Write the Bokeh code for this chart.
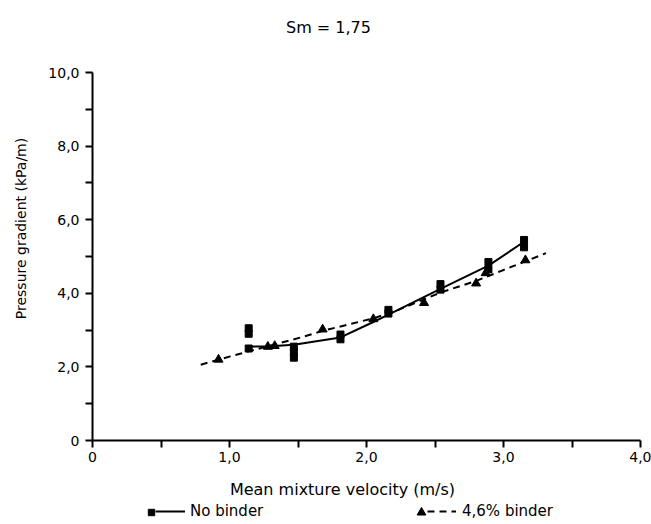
import math
from bokeh.plotting import figure
from bokeh.models import Range1d, FixedTicker, Label, Legend, LegendItem
from bokeh.core.properties import value
from bokeh.embed import file_html
from bokeh.resources import INLINE

# ---- texts ----
title_text = "Sm = 1,75"
x_label = "Mean mixture velocity (m/s)"
y_label = "Pressure gradient (kPa/m)"
series_names = ["No binder", "4,6% binder"]

# ---- tick labels ----
x_ticks = [0, 1, 2, 3, 4]
x_minor = [0.5, 1.5, 2.5, 3.5]
x_tick_labels = ["0", "1,0", "2,0", "3,0", "4,0"]
y_ticks = [0, 2, 4, 6, 8, 10]
y_minor = [1, 3, 5, 7, 9]
y_tick_labels = ["0", "2,0", "4,0", "6,0", "8,0", "10,0"]

# ---- No binder (squares, solid curve) ----
nb_x = [1.14, 1.14, 1.14, 1.47, 1.47, 1.47, 1.81, 1.81, 2.16, 2.16, 2.54, 2.54, 2.89, 2.89, 3.15, 3.15]
nb_y = [3.05, 2.90, 2.50, 2.55, 2.40, 2.25, 2.88, 2.75, 3.45, 3.55, 4.10, 4.25, 4.65, 4.85, 5.25, 5.45]
nb_curve_x = [1.13, 1.30, 1.47, 1.81, 2.05, 2.16, 2.54, 2.89, 3.15]
nb_curve_y = [2.55, 2.56, 2.60, 2.80, 3.22, 3.42, 4.12, 4.75, 5.40]

# ---- 4,6% binder (triangles, dashed curve) ----
b_x = [0.92, 1.28, 1.33, 1.68, 2.05, 2.42, 2.80, 2.87, 3.16]
b_y = [2.20, 2.55, 2.57, 3.02, 3.30, 3.74, 4.27, 4.55, 4.90]
b_curve_x = [0.79, 1.00, 1.30, 1.52, 1.68, 2.05, 2.20, 2.54, 2.81, 3.16, 3.31]
b_curve_y = [2.06, 2.28, 2.58, 2.80, 2.98, 3.32, 3.50, 4.02, 4.35, 4.87, 5.09]

FONT = "DejaVu Sans"
W, H = 651, 524
X0_PX, X4_PX = 92, 640      # pixel of x=0 and x=4
Y0_PX, Y10_PX = 440, 72     # pixel of y=0 and y=10
sx = (X4_PX - X0_PX) / 4.0
sy = (Y0_PX - Y10_PX) / 10.0

p = figure(width=W, height=H, output_backend="svg", toolbar_location=None,
           x_range=Range1d(-X0_PX / sx, (W - X0_PX) / sx),
           y_range=Range1d(-(H - Y0_PX) / sy, Y0_PX / sy),
           min_border=0)
p.outline_line_color = None
p.xgrid.visible = False
p.ygrid.visible = False
p.background_fill_color = "white"
p.border_fill_color = "white"

for ax, ticks, minor, labels, bnd in [(p.xaxis[0], x_ticks, x_minor, x_tick_labels, (0, 4)),
                                      (p.yaxis[0], y_ticks, y_minor, y_tick_labels, (0, 10))]:
    ax.fixed_location = 0
    ax.bounds = bnd
    ax.ticker = FixedTicker(ticks=ticks, minor_ticks=minor)
    ax.major_label_overrides = {t: l for t, l in zip(ticks, labels)}
    ax.axis_line_width = 2
    ax.axis_line_color = "black"
    ax.major_tick_line_width = 2
    ax.minor_tick_line_width = 2
    ax.major_tick_line_color = "black"
    ax.minor_tick_line_color = "black"
    ax.major_tick_in = 0
    ax.minor_tick_in = 0
    ax.major_tick_out = 7
    ax.minor_tick_out = 7
    ax.major_label_text_font = FONT
    ax.major_label_text_font_size = "14px"
    ax.major_label_text_color = "black"
p.xaxis[0].major_label_standoff = 4
p.yaxis[0].major_label_standoff = 6

# curves
nb_line = p.line(nb_curve_x, nb_curve_y, line_color="black", line_width=2)
b_line = p.line(b_curve_x, b_curve_y, line_color="black", line_width=2, line_dash="7 5")
# markers
nb_pts = p.scatter(nb_x, nb_y, marker="square", size=7, fill_color="black", line_color="black")
b_pts = p.scatter(b_x, b_y, marker="triangle", size=9, fill_color="black", line_color="black")

def px_to_x(px):
    return (px - X0_PX) / sx

def px_to_y(py):
    return (Y0_PX - py) / sy

p.add_layout(Label(x=px_to_x(328), y=px_to_y(27), text=title_text, text_align="center",
                   text_baseline="middle", text_font=FONT, text_font_size="16px", text_color="black"))
p.add_layout(Label(x=px_to_x(342), y=px_to_y(489), text=x_label, text_align="center",
                   text_baseline="middle", text_font=FONT, text_font_size="16px", text_color="black"))
p.add_layout(Label(x=px_to_x(20), y=px_to_y(228), text=y_label, angle=math.pi / 2, text_align="center",
                   text_baseline="middle", text_font=FONT, text_font_size="14px", text_color="black"))

def mk_legend(items, left_px, bottom_px, gw, gh, standoff=6):
    lg = Legend(items=items, location=(left_px, bottom_px), glyph_width=gw, glyph_height=gh,
                label_text_font=FONT, label_text_font_size="15px", label_height=16,
                label_text_color="black",
                label_standoff=standoff, padding=0, margin=0, spacing=0,
                border_line_color=None, background_fill_alpha=0)
    p.add_layout(lg, "center")
    return lg

mk_legend([LegendItem(label=value(""), renderers=[nb_pts])], 143, 4, 16, 16, 0)
mk_legend([LegendItem(label=value(series_names[0]), renderers=[nb_line])], 155, 4, 30, 16, 5)
mk_legend([LegendItem(label=value(""), renderers=[b_pts])], 410, 1, 22, 22, 0)
mk_legend([LegendItem(label=value(series_names[1]), renderers=[b_line])], 427, 4, 29, 16, 6)

open("out.html", "w").write(file_html(p, INLINE))
